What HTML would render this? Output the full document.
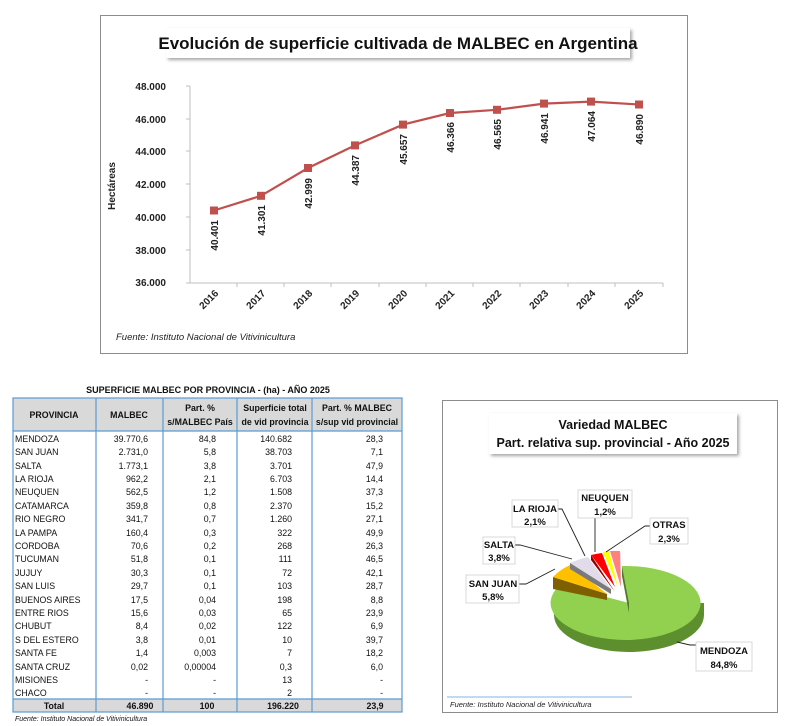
<!DOCTYPE html>
<html><head><meta charset="utf-8"><style>
html,body{margin:0;padding:0;background:#fff}
svg{display:block}
text{font-family:"Liberation Sans",sans-serif}
</style></head><body>
<svg width="788" height="726" viewBox="0 0 788 726" xmlns="http://www.w3.org/2000/svg">
<defs>
<filter id="sh" x="-5%" y="-20%" width="115%" height="160%"><feDropShadow dx="2" dy="2" stdDeviation="1.5" flood-color="#000" flood-opacity="0.35"/></filter>
</defs>
<!-- Top chart -->
<rect x="100.5" y="15.5" width="587" height="338" fill="#fff" stroke="#8c8c8c" stroke-width="1"/>
<rect x="166" y="28" width="464" height="30" fill="#fff" filter="url(#sh)"/>
<text x="398" y="49" text-anchor="middle" font-size="17" font-weight="bold" fill="#111">Evolución de superficie cultivada de MALBEC en Argentina</text>
<g font-size="10" font-weight="bold" fill="#222" text-anchor="end">
<text x="166" y="90">48.000</text><text x="166" y="123">46.000</text><text x="166" y="155">44.000</text>
<text x="166" y="188">42.000</text><text x="166" y="221">40.000</text><text x="166" y="254">38.000</text><text x="166" y="286">36.000</text>
</g>
<text transform="translate(115,186) rotate(-90)" text-anchor="middle" font-size="10" font-weight="bold" fill="#222">Hectáreas</text>
<g stroke="#bfbfbf" stroke-width="1">
<line x1="190" y1="86" x2="190" y2="283"/>
<line x1="186" y1="86" x2="190" y2="86"/><line x1="186" y1="119" x2="190" y2="119"/><line x1="186" y1="151" x2="190" y2="151"/><line x1="186" y1="184" x2="190" y2="184"/><line x1="186" y1="217" x2="190" y2="217"/><line x1="186" y1="250" x2="190" y2="250"/>
<line x1="186" y1="283" x2="663" y2="283"/>
<line x1="237" y1="283" x2="237" y2="287"/><line x1="284" y1="283" x2="284" y2="287"/><line x1="331" y1="283" x2="331" y2="287"/><line x1="379" y1="283" x2="379" y2="287"/><line x1="426" y1="283" x2="426" y2="287"/><line x1="473" y1="283" x2="473" y2="287"/><line x1="520" y1="283" x2="520" y2="287"/><line x1="568" y1="283" x2="568" y2="287"/><line x1="615" y1="283" x2="615" y2="287"/><line x1="663" y1="283" x2="663" y2="287"/>
</g>
<polyline fill="none" stroke="#c0504d" stroke-width="2.2" points="214,210.5 261,195.8 308,168 355,145.4 403,124.6 450,113 497,109.8 544,103.6 591,101.6 639,104.5"/>
<g fill="#c0504d">
<rect x="210" y="206.5" width="8" height="8"/><rect x="257" y="191.8" width="8" height="8"/><rect x="304" y="164" width="8" height="8"/><rect x="351" y="141.4" width="8" height="8"/><rect x="399" y="120.6" width="8" height="8"/><rect x="446" y="109" width="8" height="8"/><rect x="493" y="105.8" width="8" height="8"/><rect x="540" y="99.6" width="8" height="8"/><rect x="587" y="97.6" width="8" height="8"/><rect x="635" y="100.5" width="8" height="8"/>
</g>
<g font-size="10" font-weight="bold" fill="#222" text-anchor="end">
<text transform="translate(218,220) rotate(-90)">40.401</text>
<text transform="translate(265,205) rotate(-90)">41.301</text>
<text transform="translate(312,178) rotate(-90)">42.999</text>
<text transform="translate(359,155) rotate(-90)">44.387</text>
<text transform="translate(407,134) rotate(-90)">45.657</text>
<text transform="translate(454,122) rotate(-90)">46.366</text>
<text transform="translate(501,119) rotate(-90)">46.565</text>
<text transform="translate(548,113) rotate(-90)">46.941</text>
<text transform="translate(595,111) rotate(-90)">47.064</text>
<text transform="translate(643,114) rotate(-90)">46.890</text>
</g>
<g font-size="10" font-weight="bold" fill="#222" text-anchor="end">
<text transform="translate(219,294) rotate(-45)">2016</text>
<text transform="translate(266,294) rotate(-45)">2017</text>
<text transform="translate(313,294) rotate(-45)">2018</text>
<text transform="translate(360,294) rotate(-45)">2019</text>
<text transform="translate(408,294) rotate(-45)">2020</text>
<text transform="translate(455,294) rotate(-45)">2021</text>
<text transform="translate(502,294) rotate(-45)">2022</text>
<text transform="translate(549,294) rotate(-45)">2023</text>
<text transform="translate(596,294) rotate(-45)">2024</text>
<text transform="translate(644,294) rotate(-45)">2025</text>
</g>
<text x="116" y="340" font-size="9.5" font-style="italic" fill="#222">Fuente: Instituto Nacional de Vitivinicultura</text>

<!-- Table -->
<text x="208" y="393" text-anchor="middle" font-size="9" font-weight="bold" fill="#111">SUPERFICIE MALBEC POR PROVINCIA - (ha) - AÑO 2025</text>
<rect x="13" y="398" width="389" height="33" fill="#d9d9d9"/>
<rect x="13" y="699" width="389" height="13" fill="#d9d9d9"/>
<g stroke="#5b9bd5" stroke-width="1.2" fill="none">
<rect x="13" y="398" width="389" height="314"/>
<line x1="13" y1="431" x2="402" y2="431"/>
<line x1="13" y1="699" x2="402" y2="699"/>
<line x1="96" y1="398" x2="96" y2="712"/><line x1="163" y1="398" x2="163" y2="712"/><line x1="237" y1="398" x2="237" y2="712"/><line x1="312" y1="398" x2="312" y2="712"/>
</g>
<g font-size="8.8" font-weight="bold" fill="#111" text-anchor="middle">
<text x="54" y="418">PROVINCIA</text><text x="129" y="418">MALBEC</text>
<text x="200" y="411">Part. %</text><text x="200" y="425">s/MALBEC País</text>
<text x="275" y="411">Superficie  total</text><text x="275" y="425">de vid provincia</text>
<text x="357" y="411">Part. % MALBEC</text><text x="357" y="425">s/sup vid provincial</text>
</g>
<g font-size="8.8" fill="#111">
<g>
<text x="15" y="442">MENDOZA</text><text x="15" y="455">SAN JUAN</text><text x="15" y="469">SALTA</text><text x="15" y="482">LA RIOJA</text><text x="15" y="495">NEUQUEN</text><text x="15" y="509">CATAMARCA</text><text x="15" y="522">RIO NEGRO</text><text x="15" y="536">LA PAMPA</text><text x="15" y="549">CORDOBA</text><text x="15" y="562">TUCUMAN</text><text x="15" y="576">JUJUY</text><text x="15" y="589">SAN LUIS</text><text x="15" y="603">BUENOS AIRES</text><text x="15" y="616">ENTRE RIOS</text><text x="15" y="629">CHUBUT</text><text x="15" y="643">S DEL ESTERO</text><text x="15" y="656">SANTA FE</text><text x="15" y="670">SANTA CRUZ</text><text x="15" y="683">MISIONES</text><text x="15" y="696">CHACO</text>
</g>
<g text-anchor="end">
<text x="148" y="442">39.770,6</text><text x="148" y="455">2.731,0</text><text x="148" y="469">1.773,1</text><text x="148" y="482">962,2</text><text x="148" y="495">562,5</text><text x="148" y="509">359,8</text><text x="148" y="522">341,7</text><text x="148" y="536">160,4</text><text x="148" y="549">70,6</text><text x="148" y="562">51,8</text><text x="148" y="576">30,3</text><text x="148" y="589">29,7</text><text x="148" y="603">17,5</text><text x="148" y="616">15,6</text><text x="148" y="629">8,4</text><text x="148" y="643">3,8</text><text x="148" y="656">1,4</text><text x="148" y="670">0,02</text><text x="148" y="683">-</text><text x="148" y="696">-</text>
<text x="216" y="442">84,8</text><text x="216" y="455">5,8</text><text x="216" y="469">3,8</text><text x="216" y="482">2,1</text><text x="216" y="495">1,2</text><text x="216" y="509">0,8</text><text x="216" y="522">0,7</text><text x="216" y="536">0,3</text><text x="216" y="549">0,2</text><text x="216" y="562">0,1</text><text x="216" y="576">0,1</text><text x="216" y="589">0,1</text><text x="216" y="603">0,04</text><text x="216" y="616">0,03</text><text x="216" y="629">0,02</text><text x="216" y="643">0,01</text><text x="216" y="656">0,003</text><text x="216" y="670">0,00004</text><text x="216" y="683">-</text><text x="216" y="696">-</text>
<text x="292" y="442">140.682</text><text x="292" y="455">38.703</text><text x="292" y="469">3.701</text><text x="292" y="482">6.703</text><text x="292" y="495">1.508</text><text x="292" y="509">2.370</text><text x="292" y="522">1.260</text><text x="292" y="536">322</text><text x="292" y="549">268</text><text x="292" y="562">111</text><text x="292" y="576">72</text><text x="292" y="589">103</text><text x="292" y="603">198</text><text x="292" y="616">65</text><text x="292" y="629">122</text><text x="292" y="643">10</text><text x="292" y="656">7</text><text x="292" y="670">0,3</text><text x="292" y="683">13</text><text x="292" y="696">2</text>
<text x="383" y="442">28,3</text><text x="383" y="455">7,1</text><text x="383" y="469">47,9</text><text x="383" y="482">14,4</text><text x="383" y="495">37,3</text><text x="383" y="509">15,2</text><text x="383" y="522">27,1</text><text x="383" y="536">49,9</text><text x="383" y="549">26,3</text><text x="383" y="562">46,5</text><text x="383" y="576">42,1</text><text x="383" y="589">28,7</text><text x="383" y="603">8,8</text><text x="383" y="616">23,9</text><text x="383" y="629">6,9</text><text x="383" y="643">39,7</text><text x="383" y="656">18,2</text><text x="383" y="670">6,0</text><text x="383" y="683">-</text><text x="383" y="696">-</text>
</g>
</g>
<g font-size="8.8" font-weight="bold" fill="#111" text-anchor="middle">
<text x="54" y="709">Total</text><text x="140" y="709">46.890</text><text x="207" y="709">100</text><text x="283" y="709">196.220</text><text x="375" y="709">23,9</text>
</g>
<text x="15" y="721" font-size="7" font-style="italic" fill="#111">Fuente: Instituto Nacional de Vitivinicultura</text>

<!-- Pie chart -->
<rect x="442.5" y="400.5" width="335" height="312" fill="#fff" stroke="#8c8c8c"/>
<rect x="489" y="413" width="248" height="41" fill="#fff" filter="url(#sh)"/>
<text x="613" y="429" text-anchor="middle" font-size="12.5" font-weight="bold" fill="#111">Variedad MALBEC</text>
<text x="613" y="447" text-anchor="middle" font-size="12.5" font-weight="bold" fill="#111">Part. relativa sup. provincial - Año 2025</text>

<!-- Mendoza side & top -->
<path d="M554,603 L554,615 A75,37 0 0 0 704,615 L704,603 Z" fill="#5e8f2e"/>
<path d="M629,603 L622,566 A75,37 0 1 1 560,585 Z" fill="#92d050"/>
<path d="M629,603 L622,566 L622,576 L629,613 Z" fill="#4e7a26"/>
<!-- San Juan -->
<path d="M553,577 L553,589 L607,600 L607,594 Z" fill="#7f6000"/>
<path d="M607,594 L553,577 A75,37 0 0 1 570,565 Z" fill="#ffc000"/>
<!-- Salta -->
<path d="M611,589 L570,563 A75,37 0 0 1 588,557 Z" fill="#e2dcea"/>
<path d="M570,563 L570,569 L611,594 L611,589 Z" fill="#7a7a7a"/>
<!-- La Rioja -->
<path d="M615,587 L591,555 A75,37 0 0 1 602,553 Z" fill="#ff0000"/>
<path d="M591,555 L591,560 L615,592 Z" fill="#900"/>
<!-- Neuquen -->
<path d="M618,587 L603,552 A75,37 0 0 1 609,551 Z" fill="#ffff00"/>
<!-- Otras -->
<path d="M621,587 L610,551 A75,37 0 0 1 620,551 Z" fill="#ff8080"/>
<path d="M621,587 L620,551 L620,556 Z" fill="#a04040"/>

<!-- leader lines -->
<g stroke="#222" stroke-width="0.9" fill="none">
<polyline points="558,509 562,509 585,556"/>
<polyline points="595,518 595,552"/>
<polyline points="650,526 645,526 606,552"/>
<polyline points="515,545 520,545 572,559"/>
<polyline points="519,584 526,584 555,569"/>
<polyline points="696,645 690,645 677,642"/>
</g>
<!-- label boxes -->
<g fill="#fff" stroke="#cfcfcf" stroke-width="0.8">
<rect x="512" y="500" width="46" height="27"/>
<rect x="578" y="490" width="54" height="28"/>
<rect x="650" y="518" width="38" height="26"/>
<rect x="483" y="537" width="32" height="27"/>
<rect x="466" y="575" width="53" height="28"/>
<rect x="696" y="642" width="56" height="29"/>
</g>
<g font-size="9.5" font-weight="bold" fill="#111" text-anchor="middle">
<text x="535" y="512">LA RIOJA</text><text x="535" y="525">2,1%</text>
<text x="605" y="501">NEUQUEN</text><text x="605" y="515">1,2%</text>
<text x="669" y="528">OTRAS</text><text x="669" y="542">2,3%</text>
<text x="499" y="548">SALTA</text><text x="499" y="561">3,8%</text>
<text x="493" y="587">SAN JUAN</text><text x="493" y="600">5,8%</text>
<text x="724" y="654">MENDOZA</text><text x="724" y="668">84,8%</text>
</g>
<line x1="447" y1="697" x2="632" y2="697" stroke="#5b9bd5" stroke-width="0.8"/>
<text x="450" y="707" font-size="7.5" font-style="italic" fill="#222">Fuente: Instituto Nacional de Vitivinicultura</text>
</svg>
</body></html>
